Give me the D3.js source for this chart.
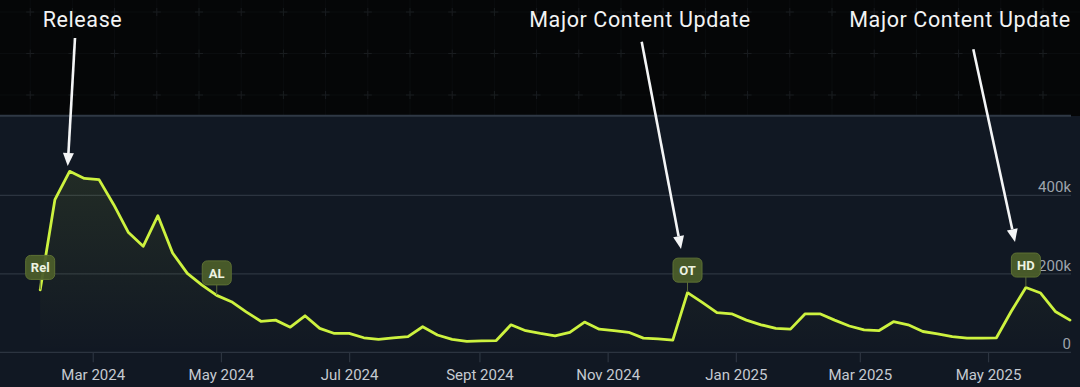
<!DOCTYPE html>
<html>
<head>
<meta charset="utf-8">
<script src="https://cdn.jsdelivr.net/npm/d3@7"></script>
<style>
  html, body { margin: 0; padding: 0; background: #050607; }
  svg { display: block; }
</style>
</head>
<body>
<svg id="chart" width="1080" height="387"></svg>
<script>
// ---- data ----
const weeks = [
  "2024-02-05","2024-02-12","2024-02-19","2024-02-26","2024-03-04","2024-03-11","2024-03-18","2024-03-25",
  "2024-04-01","2024-04-08","2024-04-15","2024-04-22","2024-04-29","2024-05-06","2024-05-13","2024-05-20",
  "2024-05-27","2024-06-03","2024-06-10","2024-06-17","2024-06-24","2024-07-01","2024-07-08","2024-07-15",
  "2024-07-22","2024-07-29","2024-08-05","2024-08-12","2024-08-19","2024-08-26","2024-09-02","2024-09-09",
  "2024-09-16","2024-09-23","2024-09-30","2024-10-07","2024-10-14","2024-10-21","2024-10-28","2024-11-04",
  "2024-11-11","2024-11-18","2024-11-25","2024-12-02","2024-12-09","2024-12-16","2024-12-23","2024-12-30",
  "2025-01-06","2025-01-13","2025-01-20","2025-01-27","2025-02-03","2025-02-10","2025-02-17","2025-02-24",
  "2025-03-03","2025-03-10","2025-03-17","2025-03-24","2025-03-31","2025-04-07","2025-04-14","2025-04-21",
  "2025-04-28","2025-05-05","2025-05-12","2025-05-19","2025-05-26","2025-06-02","2025-06-09"
];
const players = [
  159000,389000,461000,443000,440000,376000,305000,270000,
  348000,253000,201000,171000,145000,129000,103000,79000,
  82000,64000,93000,61000,48000,48000,37000,33000,
  37000,40000,65000,44000,33000,28000,29000,30000,
  70000,55000,48000,42000,51000,77000,59000,55000,
  51000,36000,34000,31000,152000,127000,101000,98000,
  82000,70000,61000,59000,98000,98000,82000,67000,
  57000,55000,78000,70000,53000,47000,40000,36000,
  36000,37000,104000,165000,151000,104000,82000
];
const xTickDates = ["2024-03-01","2024-05-01","2024-07-01","2024-09-01","2024-11-01","2025-01-01","2025-03-01","2025-05-01"];
const xTickLabels = ["Mar 2024","May 2024","Jul 2024","Sept 2024","Nov 2024","Jan 2025","Mar 2025","May 2025"];
const yTickValues = [0, 200000, 400000];
const yTickLabels = ["0", "200k", "400k"];
const markerWeeks = ["2024-02-05","2024-04-29","2024-12-09","2025-05-19"];
const markerLabels = ["Rel","AL","OT","HD"];
const annotationTexts = ["Release","Major Content Update","Major Content Update"];

// ---- setup ----
const W = 1080, H = 387;
const parse = d3.utcParse("%Y-%m-%d");
const data = weeks.map((w, i) => ({ date: parse(w), value: players[i] }));
const svg = d3.select("#chart");

const panelTop = 116.8;
const x = d3.scaleUtc()
  .domain([parse(weeks[0]), parse(weeks[weeks.length - 1])])
  .range([40.2, 1070]);
const y = d3.scaleLinear().domain([0, 600000]).range([352.3, panelTop]);

// background grid pattern in black header
const bg = svg.append("g");
bg.append("rect").attr("x", 0).attr("y", 0).attr("width", W).attr("height", 116).attr("fill", "#050607");
const gx = d3.range(-12, W + 42, 42.2), gy = [12, 53.5, 95];
bg.selectAll("line.vg").data(gx).join("line")
  .attr("x1", d => d).attr("x2", d => d).attr("y1", 0).attr("y2", 115)
  .attr("stroke", "#0a0c0e").attr("stroke-width", 1);
bg.selectAll("line.hg").data(gy).join("line")
  .attr("x1", 0).attr("x2", W).attr("y1", d => d).attr("y2", d => d)
  .attr("stroke", "#0a0c0e").attr("stroke-width", 1);
const plus = [];
gx.forEach(px => gy.forEach(py => plus.push([px, py])));
bg.selectAll("path.plus").data(plus).join("path")
  .attr("d", d => `M${d[0]-4},${d[1]}H${d[0]+4}M${d[0]},${d[1]-4}V${d[1]+4}`)
  .attr("stroke", "#191c1f").attr("stroke-width", 1);

// panel
svg.append("rect").attr("x", 0).attr("y", 116).attr("width", W).attr("height", H - 116).attr("fill", "#111823");
svg.append("line").attr("x1", 0).attr("x2", 1071).attr("y1", 115.8).attr("y2", 115.8)
  .attr("stroke", "#2f3845").attr("stroke-width", 2);

// gridlines
svg.append("g").selectAll("line").data(yTickValues).join("line")
  .attr("x1", 0).attr("x2", 1071)
  .attr("y1", d => y(d)).attr("y2", d => y(d))
  .attr("stroke", "#2c3440").attr("stroke-width", 1.2);

// x axis
const xAxis = d3.axisBottom(x)
  .tickValues(xTickDates.map(parse))
  .tickFormat((d, i) => xTickLabels[i])
  .tickSize(10).tickPadding(7);
const gX = svg.append("g").attr("transform", `translate(0,${y(0)})`).call(xAxis);
gX.select(".domain").remove();
gX.selectAll(".tick line").attr("stroke", "#2c3440").attr("stroke-width", 1.2);
gX.selectAll(".tick text").attr("fill", "#c5cad1")
  .style("font-family", "Roboto, 'Noto Sans', sans-serif").style("font-size", "15px");

// y axis
const yAxis = d3.axisLeft(y).tickValues(yTickValues)
  .tickFormat((d, i) => yTickLabels[i]).tickSize(0).tickPadding(0);
const gY = svg.append("g").attr("transform", "translate(1071,0)").call(yAxis);
gY.select(".domain").remove();
gY.selectAll(".tick text").attr("fill", "#9ea4ac").attr("dy", 0).attr("y", -3.5)
  .style("font-family", "Roboto, 'Noto Sans', sans-serif").style("font-size", "15px");

// area gradient
const defs = svg.append("defs");
const grad = defs.append("linearGradient").attr("id", "ag")
  .attr("x1", 0).attr("x2", 0).attr("y1", 0).attr("y2", 1);
grad.append("stop").attr("offset", "0%").attr("stop-color", "#cdf23f").attr("stop-opacity", 0.09);
grad.append("stop").attr("offset", "100%").attr("stop-color", "#cdf23f").attr("stop-opacity", 0.0);

svg.append("path").datum(data)
  .attr("d", d3.area().x(d => x(d.date)).y0(y(0)).y1(d => y(d.value)))
  .attr("fill", "url(#ag)");

svg.append("path").datum(data)
  .attr("d", d3.line().x(d => x(d.date)).y(d => y(d.value)))
  .attr("fill", "none").attr("stroke", "#cdf23f").attr("stroke-width", 2.8)
  .attr("stroke-linejoin", "round").attr("stroke-linecap", "round");

// markers
const lookup = new Map(weeks.map((w, i) => [w, players[i]]));
const mk = svg.append("g").selectAll("g").data(markerWeeks.map((w, i) => ({
  date: parse(w), value: lookup.get(w), label: markerLabels[i]
}))).join("g")
  .attr("transform", d => `translate(${x(d.date)},${y(d.value) - 22.5})`);
mk.append("line").attr("x1", 0).attr("x2", 0).attr("y1", 12).attr("y2", 22)
  .attr("stroke", "#5b6b3a").attr("stroke-width", 1);
mk.append("rect").attr("x", -14.5).attr("y", -12).attr("width", 29).attr("height", 24).attr("rx", 5)
  .attr("fill", "#4b5d2a").attr("fill-opacity", 0.95).attr("stroke", "#5d7034").attr("stroke-width", 1);
mk.append("text").text(d => d.label)
  .attr("text-anchor", "middle").attr("y", 4.8)
  .attr("fill", "#eef3e2").style("font-family", "Roboto, 'Noto Sans', sans-serif")
  .style("font-size", "13px").style("font-weight", "700");

// annotations
const arrows = [
  { tx: 82.5, text: annotationTexts[0], x1: 75, y1: 38, x2: 67.7, y2: 166 },
  { tx: 640, text: annotationTexts[1], x1: 641.7, y1: 41.7, x2: 681, y2: 249 },
  { tx: 960, text: annotationTexts[2], x1: 973.3, y1: 49.3, x2: 1015, y2: 242 }
];
const an = svg.append("g");
an.selectAll("text").data(arrows).join("text")
  .attr("x", d => d.tx).attr("y", 27).attr("text-anchor", "middle")
  .text(d => d.text)
  .attr("fill", "#f2f3f4")
  .style("font-family", "Roboto, 'Noto Sans', sans-serif")
  .style("font-size", "21.5px").style("letter-spacing", "0.6px");
arrows.forEach(a => {
  const ang = Math.atan2(a.y2 - a.y1, a.x2 - a.x1);
  const hl = 13, hw = 5.5;
  const bx = a.x2 - hl * Math.cos(ang), by = a.y2 - hl * Math.sin(ang);
  an.append("line").attr("x1", a.x1).attr("y1", a.y1).attr("x2", bx).attr("y2", by)
    .attr("stroke", "#f4f5f6").attr("stroke-width", 2.6);
  const px = -Math.sin(ang), py = Math.cos(ang);
  an.append("path")
    .attr("d", `M${a.x2},${a.y2}L${bx + px*hw},${by + py*hw}L${bx - px*hw},${by - py*hw}Z`)
    .attr("fill", "#f4f5f6");
});
</script>
</body>
</html>
